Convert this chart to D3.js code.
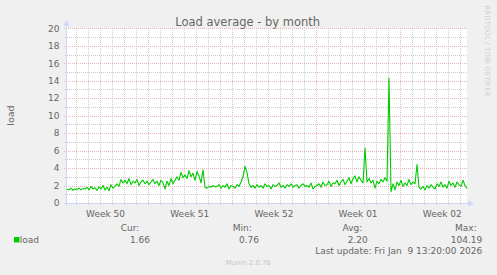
<!DOCTYPE html>
<html><head><meta charset="utf-8">
<script src="https://cdn.jsdelivr.net/npm/d3@7"></script>
<style>
body{margin:0;background:#F0F0F0;overflow:hidden}
svg{display:block}
text{font-family:"DejaVu Sans",sans-serif;}
</style>
</head><body>
<svg id="chart" width="497" height="275"></svg>
<script>
// ---- data ----
const loadValues = [
 1.6, 1.5, 1.7, 1.45, 1.6, 1.55, 1.7, 1.5, 1.65, 1.6,
 1.8, 1.5, 1.9, 1.6, 1.75, 1.45, 1.85, 1.6, 2.0, 1.5,
 1.8, 1.4, 2.1, 1.7, 1.9, 2.2, 1.9, 2.7, 2.3, 2.6,
 2.2, 2.8, 2.1, 2.5, 2.3, 2.7, 2.0, 2.4, 2.6, 2.2,
 2.5, 2.1, 2.4, 2.7, 2.2, 2.5, 2.0, 2.6, 2.3, 1.6,
 2.5, 2.0, 2.8, 2.2, 2.6, 3.0, 2.6, 3.5, 2.9, 3.2,
 2.8, 3.7, 3.0, 3.4, 2.6, 3.6, 3.1, 2.3, 3.8, 1.8,
 1.7, 1.9, 1.8, 2.0, 1.85, 1.9, 2.1, 1.7, 2.0, 1.8,
 2.2, 1.6, 2.0, 1.9, 1.7, 2.1, 1.9, 2.4, 3.0, 4.2,
 3.5, 2.2, 1.8, 2.0, 1.7, 2.1, 1.8, 2.0, 1.7, 2.2,
 1.9, 2.0, 1.6, 2.1, 1.9, 2.0, 2.3, 1.8, 2.0, 1.7,
 2.1, 1.9, 2.2, 1.8, 2.0, 2.1, 1.7, 2.0, 2.2, 1.9,
 2.0, 1.8, 2.3, 1.6, 1.9, 2.0, 2.2, 1.8, 2.4, 2.0,
 2.1, 2.5, 1.9, 2.3, 2.2, 2.6, 2.0, 2.4, 2.7, 2.1,
 2.5, 2.9, 2.2, 2.8, 3.1, 2.4, 3.0, 2.6, 2.3, 6.3,
 2.4, 2.8, 2.3, 2.6, 1.7, 2.5, 2.2, 2.7, 2.4, 2.9,
 2.5, 14.3, 1.3, 2.2, 1.5, 2.4, 2.0, 2.6, 1.9, 2.3,
 2.0, 2.7, 2.1, 2.4, 2.2, 4.4, 1.8, 1.6, 1.9, 1.5,
 2.0, 1.7, 2.1, 1.8, 1.6, 2.2, 1.9, 2.4, 1.8, 2.1,
 1.7, 2.5, 2.0, 2.3, 1.8, 2.4, 2.1, 1.9, 2.6, 2.0,
 1.66
];
const startTime = new Date(Date.UTC(2025, 11, 7, 7, 0));
const endTime = new Date(Date.UTC(2026, 0, 9, 13, 20));
const weekStarts = [new Date(Date.UTC(2025,11,7)), new Date(Date.UTC(2025,11,14)), new Date(Date.UTC(2025,11,21)), new Date(Date.UTC(2025,11,28)), new Date(Date.UTC(2026,0,4))];
const weekLabels = ["Week 50", "Week 51", "Week 52", "Week 01", "Week 02"];
const yTicks = [0, 2, 4, 6, 8, 10, 12, 14, 16, 18, 20];
const yMinorTicks = [1, 3, 5, 7, 9, 11, 13, 15, 17, 19];
const legendHeaders = ["Cur:", "Min:", "Avg:", "Max:"];
const legendValues = ["1.66", "0.76", "2.20", "104.19"];
const seriesName = "load";
const titleText = "Load average - by month";
const lastUpdate = "Last update: Fri Jan  9 13:20:00 2026";

// ---- layout ----
const L = 67, R = 467, T = 28.3, B = 203;
const svg = d3.select("#chart");
const x = d3.scaleTime().domain([startTime, endTime]).range([L, R]);
const y = d3.scaleLinear().domain([0, 20]).range([B, T]);
const DAY = 86400000;

svg.append("rect").attr("width", 497).attr("height", 275).attr("fill", "#F0F0F0");
svg.append("rect").attr("x", L).attr("y", T).attr("width", R - L).attr("height", B - T).attr("fill", "#FFFFFF");

const grid = svg.append("g").attr("shape-rendering", "crispEdges");
const minorCol = "#cdcdcd", majorCol = "#ebb4b4";
const days = d3.utcDay.range(startTime, endTime);
const weekSet = new Set(weekStarts.map(d => +d));
days.forEach(d => {
  const px = Math.round(x(d)) + 0.5;
  const major = weekSet.has(+d);
  grid.append("line").attr("x1", px).attr("x2", px).attr("y1", T).attr("y2", B + 2)
    .attr("stroke", major ? majorCol : minorCol).attr("stroke-dasharray", "1,1");
});
yMinorTicks.forEach(v => {
  const py = Math.round(y(v)) + 0.5;
  grid.append("line").attr("x1", L - 2).attr("x2", R).attr("y1", py).attr("y2", py)
    .attr("stroke", minorCol).attr("stroke-dasharray", "1,1");
});
yTicks.filter(v => v > 0).forEach(v => {
  const py = Math.round(y(v)) + 0.5;
  grid.append("line").attr("x1", L - 3).attr("x2", R).attr("y1", py).attr("y2", py)
    .attr("stroke", majorCol).attr("stroke-dasharray", "1,1");
});

// axes
const axisCol = "#CFD6F8";
grid.append("line").attr("x1", L - 3).attr("x2", R + 2).attr("y1", B + 0.5).attr("y2", B + 0.5).attr("stroke", axisCol);
grid.append("line").attr("x1", L - 0.5).attr("x2", L - 0.5).attr("y1", B + 3).attr("y2", T - 3).attr("stroke", axisCol);
svg.append("path").attr("d", `M${R + 1},${B - 2.5} L${R + 7},${B + 0.5} L${R + 1},${B + 3.5} Z`).attr("fill", axisCol);
svg.append("path").attr("d", `M${L - 3.5},${T - 2.5} L${L - 0.5},${T - 8.5} L${L + 2.5},${T - 2.5} Z`).attr("fill", axisCol);

// y labels
svg.selectAll(".yl").data(yTicks).enter().append("text")
  .attr("x", 59.5).attr("y", d => y(d) + 3.3).attr("text-anchor", "end")
  .attr("font-size", 9).attr("fill", "#666666").text(d => d);

// x labels
svg.selectAll(".xl").data(weekStarts).enter().append("text")
  .attr("x", d => x(new Date(+d + 3.5 * DAY))).attr("y", 216.5).attr("text-anchor", "middle")
  .attr("font-size", 9).attr("fill", "#666666").text((d, i) => weekLabels[i]);

// line
const tStep = (endTime - startTime) / (loadValues.length - 1);
const line = d3.line().x((d, i) => x(new Date(+startTime + i * tStep))).y(d => y(d));
svg.append("path").datum(loadValues).attr("d", line).attr("fill", "none")
  .attr("stroke", "#00CC00").attr("stroke-width", 1.1).attr("stroke-linejoin", "round");

// title
svg.append("text").attr("x", 247.7).attr("y", 26).attr("text-anchor", "middle")
  .attr("font-size", 11.5).attr("fill", "#666666").text(titleText);

// y axis title
svg.append("text").attr("transform", "translate(13.5,115.5) rotate(-90)").attr("text-anchor", "middle")
  .attr("font-size", 9.5).attr("fill", "#666666").text(seriesName);

// watermark
svg.append("text").attr("transform", "translate(484.5,51) rotate(90)").attr("text-anchor", "middle")
  .attr("font-size", 7.1).attr("fill", "#d2d2d2").text("RRDTOOL / TOBI OETIKER");

// legend
svg.append("rect").attr("x", 14).attr("y", 237).attr("width", 5.5).attr("height", 5.5).attr("fill", "#00CC00");
svg.append("text").attr("x", 19.8).attr("y", 242.5).attr("font-size", 9).attr("fill", "#666666").text(seriesName);
const headerRight = [139.3, 251.7, 362.3, 476.7];
const valueRight = [150, 259, 367.7, 482.3];
legendHeaders.forEach((h, i) => {
  svg.append("text").attr("x", headerRight[i]).attr("y", 231.3).attr("text-anchor", "end")
    .attr("font-size", 9).attr("fill", "#666666").text(h);
  svg.append("text").attr("x", valueRight[i]).attr("y", 242.5).attr("text-anchor", "end")
    .attr("font-size", 9).attr("fill", "#666666").text(legendValues[i]);
});
svg.append("text").attr("x", 482.3).attr("y", 254.3).attr("text-anchor", "end")
  .style("white-space", "pre").attr("font-size", 9).attr("fill", "#666666").text(lastUpdate);
svg.append("text").attr("x", 248.2).attr("y", 264.8).attr("text-anchor", "middle")
  .attr("font-size", 6.9).attr("fill", "#c4c4c4").text("Munin 2.0.76");
</script>
</body></html>
